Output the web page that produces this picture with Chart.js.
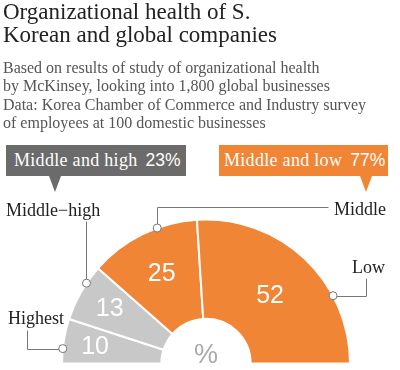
<!DOCTYPE html>
<html lang="en">
<head>
<meta charset="UTF-8">
<title>Organizational health of S. Korean and global companies</title>
<style>
  body { margin: 0; background: #fff; }
  #wrap { position: relative; width: 400px; height: 370px; overflow: hidden; }
  #chart { position: absolute; left: 0; top: 0; }
  .title {
    position: absolute; left: 3px; top: 0;
    font: 23px/23px "Liberation Serif", serif; color: #222; white-space: nowrap;
  }
  .sub {
    position: absolute; left: 3px; top: 59px;
    font: 16px/18.4px "Liberation Serif", serif; color: #555; white-space: nowrap;
  }
  .box {
    position: absolute; top: 145px; height: 31px; line-height: 31px;
    color: #fff; white-space: nowrap; box-sizing: border-box; padding-left: 8px;
  }
  .box .lbl { font: 18px "Liberation Serif", serif; letter-spacing: 0.3px; }
  .box .pct { font: 17.5px "Liberation Sans", sans-serif; margin-left: 8px; }
  .box::after {
    content: ""; position: absolute; top: 31px; width: 0; height: 0;
    border-left: 6px solid transparent; border-right: 6px solid transparent;
    border-top: 16px solid;
  }
  #boxHigh { left: 6px; width: 180px; background: #6b6b6b; }
  #boxHigh::after { left: 43px; border-top-color: #6b6b6b; }
  #boxLow { left: 219px; width: 169px; background: #ef8535; padding-left: 5px; }
  #boxLow::after { left: 141px; border-top-color: #ef8535; }
</style>
</head>
<body>
<div id="wrap">
  <canvas id="chart" width="400" height="370"></canvas>
  <div class="title">Organizational health of S.<br>Korean and global companies</div>
  <div class="sub">Based on results of study of organizational health<br>by McKinsey, looking into 1,800 global businesses<br>Data: Korea Chamber of Commerce and Industry survey<br>of employees at 100 domestic businesses</div>
  <div class="box" id="boxHigh"><span class="lbl"></span><span class="pct"></span></div>
  <div class="box" id="boxLow"><span class="lbl"></span><span class="pct"></span></div>
</div>

<script src="https://cdn.jsdelivr.net/npm/chart.js"></script>
<script>
  // data (%)
  const categories = ['Highest', 'Middle\u2212high', 'Middle', 'Low'];
  const values = [10, 13, 25, 52];
  const groupLabels = ['Middle and high', 'Middle and low'];
  const groupValues = [23, 77];

  const gray = '#c8c8c8';
  const orange = '#ef8535';
  const sliceColors = [gray, gray, orange, orange];

  // fill the two header boxes
  ['boxHigh', 'boxLow'].forEach((id, i) => {
    const box = document.getElementById(id);
    box.querySelector('.lbl').textContent = groupLabels[i];
    box.querySelector('.pct').textContent = groupValues[i] + '%';
  });

  // where each value label sits (fraction of outer radius)
  const labelRadius = [0.78, 0.77, 0.70, 0.65];

  // callouts: point on the rim (fraction along slice), elbow path, text spot
  const callouts = [
    { at: 0.33, path: [['x', 27], ['y', 330]], text: [8, 324] },
    { at: 0.68, path: [['y', 221]], text: [6, 216] },
    { at: 0.64, path: [['y', 207], ['x', 328]], text: [334, 215] },
    { at: 0.70, path: [['x', 366], ['y', 278]], text: [352, 273] }
  ];

  const overlay = {
    id: 'overlay',
    afterDatasetsDraw(chart) {
      const ctx = chart.ctx;
      const arcs = chart.getDatasetMeta(0).data;
      ctx.save();

      // values inside slices
      ctx.fillStyle = '#fff';
      ctx.font = '25px "Liberation Sans", Arial, sans-serif';
      ctx.textAlign = 'center';
      ctx.textBaseline = 'middle';
      arcs.forEach((arc, i) => {
        const mid = (arc.startAngle + arc.endAngle) / 2;
        const r = arc.outerRadius * labelRadius[i];
        ctx.fillText(values[i], arc.x + r * Math.cos(mid), arc.y + r * Math.sin(mid) + 1);
      });

      // percent sign in the middle
      const c = arcs[0];
      ctx.fillStyle = '#aaaaaa';
      ctx.font = '27px "Liberation Sans", Arial, sans-serif';
      ctx.textBaseline = 'alphabetic';
      ctx.fillText('%', c.x, c.y - 1);

      // callout lines, dots and names
      ctx.strokeStyle = '#777';
      ctx.lineWidth = 1;
      ctx.font = '18px "Liberation Serif", serif';
      ctx.textAlign = 'left';
      arcs.forEach((arc, i) => {
        const co = callouts[i];
        const a = arc.startAngle + co.at * (arc.endAngle - arc.startAngle);
        const px = arc.x + arc.outerRadius * Math.cos(a);
        const py = arc.y + arc.outerRadius * Math.sin(a);
        let x = px, y = py;
        ctx.beginPath();
        ctx.moveTo(Math.round(x) + 0.5, Math.round(y) + 0.5);
        co.path.forEach(([k, v]) => {
          if (k === 'x') x = v; else y = v;
          ctx.lineTo(Math.round(x) + 0.5, Math.round(y) + 0.5);
        });
        ctx.stroke();
        ctx.beginPath();
        ctx.arc(px, py, 4, 0, Math.PI * 2);
        ctx.fillStyle = '#fff';
        ctx.fill();
        ctx.stroke();
        ctx.fillStyle = '#222';
        ctx.fillText(categories[i], co.text[0], co.text[1]);
      });
      ctx.restore();
    }
  };

  new Chart(document.getElementById('chart'), {
    type: 'doughnut',
    data: {
      labels: categories,
      datasets: [{
        data: values,
        backgroundColor: sliceColors,
        borderColor: '#fff',
        borderWidth: 2
      }]
    },
    options: {
      responsive: false,
      animation: false,
      rotation: -90,
      circumference: 180,
      cutout: '31%',
      radius: 144,
      layout: { padding: { left: 62, right: 50, top: 218, bottom: 5 } },
      plugins: {
        legend: { display: false },
        tooltip: { enabled: false }
      }
    },
    plugins: [overlay]
  });
</script>
</body>
</html>
